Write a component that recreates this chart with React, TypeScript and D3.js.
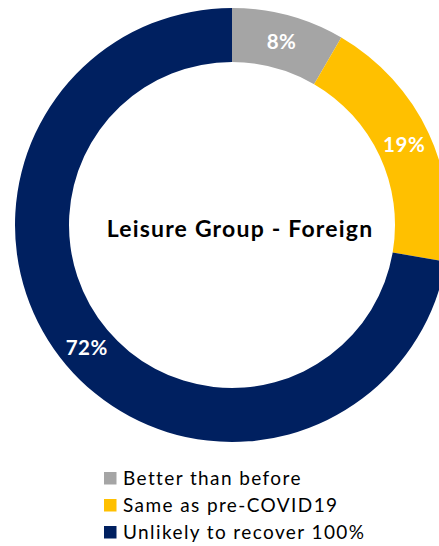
import React from "react";
import * as d3 from "d3";

const categories = ["Better than before", "Same as pre-COVID19", "Unlikely to recover 100%"];
const values = [8.4, 19.3, 72.3];
const labels = ["8%", "19%", "72%"];
const colors = ["#A5A5A5", "#FFC000", "#002060"];
const title = "Leisure Group - Foreign";

const W = 439;
const H = 546;
const cx = 232;
const cy = 225;
const outerR = 217;
const innerR = 163;

export default function App() {
  const pie = d3.pie<number>().sort(null).value((d) => d)(values);
  const arc = d3.arc<d3.PieArcDatum<number>>().innerRadius(innerR).outerRadius(outerR);
  const legendY = d3.scaleBand<string>().domain(categories).range([472 - 7.5, 472 - 7.5 + 27 * 3]);

  return (
    <svg
      width={W}
      height={H}
      style={{ position: "absolute", left: 0, top: 0, background: "#fff" }}
      fontFamily="Lato, 'Noto Sans', sans-serif"
    >
      <g transform={`translate(${cx},${cy})`}>
        {pie.map((p, i) => (
          <path key={i} d={arc(p) || ""} fill={colors[i]} />
        ))}
        {pie.map((p, i) => {
          const [x, y] = arc.centroid(p);
          return (
            <text
              key={"l" + i}
              x={x}
              y={y}
              dy="0.36em"
              textAnchor="middle"
              fill="#fff"
              fontWeight="bold"
              fontSize={20.5}
              letterSpacing={0.5}
            >
              {labels[i]}
            </text>
          );
        })}
      </g>
      <text
        x={240}
        y={236.5}
        textAnchor="middle"
        fontWeight="bold"
        fontSize={23}
        letterSpacing={1.2}
        fill="#000"
      >
        {title}
      </text>
      {categories.map((c, i) => {
        const y0 = (legendY(c) || 0) + 7.5;
        return (
          <g key={c}>
            <rect x={104} y={y0} width={12.5} height={12.5} fill={colors[i]} />
            <text x={123} y={y0 + 13} fontSize={19} letterSpacing={1.4} fill="#000">
              {c}
            </text>
          </g>
        );
      })}
    </svg>
  );
}
